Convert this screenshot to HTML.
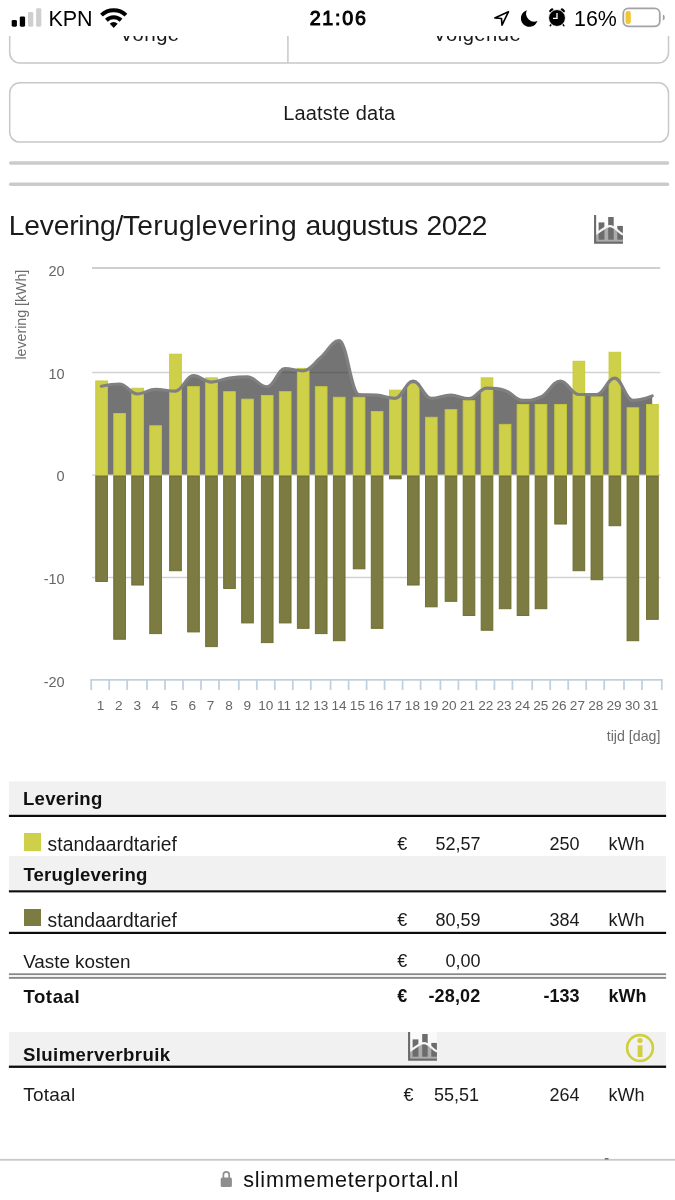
<!DOCTYPE html>
<html lang="nl"><head><meta charset="utf-8"><title>Slimmemeterportal - Levering/Teruglevering augustus 2022</title>
<style>
html,body{margin:0;padding:0;background:#fff;}
body{width:675px;height:1200px;overflow:hidden;position:relative;font-family:"Liberation Sans", sans-serif;color:#1a1a1a;}
#page{position:absolute;left:0;top:0;width:675px;height:1200px;overflow:hidden;background:#fff;}
.sw{position:absolute;left:23.7px;width:17.3px;height:17.5px;}
#status{position:absolute;left:0;top:0;width:675px;height:36.3px;background:#fff;z-index:5;}
#bottombar{position:absolute;left:0;top:1159px;width:675px;height:41px;background:#fff;z-index:5;}

</style></head><body><div id="page">
<svg width="675" height="150" viewBox="0 0 675 150" style="position:absolute;left:0;top:0">
<g fill="#fff" stroke="#c8c8c8" stroke-width="1.5">
<rect x="9.7" y="-12" width="658.8" height="74.9" rx="10.2"/>
<path d="M287.9,0V62.9"/>
<rect x="9.7" y="82.8" width="658.8" height="59.3" rx="10.2"/>
</g></svg>
<div style="position:absolute;top:21.98px;font-size:20.2px;line-height:24.24px;font-weight:400;color:#1a1a1a;white-space:nowrap;letter-spacing:0.4px;left:-150.4px;width:600px;text-align:center;">Vorige</div>
<div style="position:absolute;top:21.98px;font-size:20.2px;line-height:24.24px;font-weight:400;color:#1a1a1a;white-space:nowrap;letter-spacing:0.5px;left:177.2px;width:600px;text-align:center;">Volgende</div>
<div style="position:absolute;top:101.17px;font-size:20px;line-height:24.00px;font-weight:400;color:#1a1a1a;white-space:nowrap;letter-spacing:0.18px;left:39.30000000000001px;width:600px;text-align:center;">Laatste data</div>
<svg width="675" height="40" viewBox="0 155 675 40" style="position:absolute;left:0;top:155px">
<g stroke="#cbcbcb" stroke-width="3.5" stroke-linecap="round"><path d="M10.7,162.9H667.5"/><path d="M10.7,184.3H667.5"/></g></svg>
<div style="position:absolute;top:208.66px;font-size:28.25px;line-height:33.90px;font-weight:400;color:#1a1a1a;white-space:nowrap;left:8.7px;"><span style="letter-spacing:-0.2px">Levering</span><span style="letter-spacing:-0.6px">/</span><span style="letter-spacing:0.36px">Teruglevering</span><span style="letter-spacing:0.6px"> </span><span style="letter-spacing:-0.25px">augustus</span><span style="letter-spacing:0.6px"> </span><span style="letter-spacing:-0.62px">2022</span></div>
<svg width="29.4" height="29" viewBox="0 0 29.4 29" style="position:absolute;left:594px;top:214.6px">
<rect x="0" y="0" width="29.2" height="28.9" fill="#fff"/>
<path d="M1,19.4 C6.5,16.6 11,11.2 16,11.2 C21,11.2 24,17.2 29,19.6 V26.8 H1 Z" fill="#ababab"/>
<rect x="4.6" y="7.4" width="5.8" height="17.3" fill="#6c6c6c"/>
<rect x="14.2" y="2" width="5.5" height="22.7" fill="#6c6c6c"/>
<rect x="23.3" y="10.9" width="5.6" height="13.8" fill="#6c6c6c"/>
<path d="M1,19.4 C6.5,16.6 11,11.2 16,11.2 C21,11.2 24,17.2 29,19.6" fill="none" stroke="#f6f6f6" stroke-width="2.2"/>
<path d="M1.1,0.1V27.6H29" fill="none" stroke="#6a6a6a" stroke-width="2.1"/>
</svg>
<svg class="chart" width="675" height="520" viewBox="0 250 675 520" style="position:absolute;left:0;top:250px">
<g stroke="#d2d2d2" fill="none">
<path d="M92,268H660.3" stroke-width="2.1" stroke="#cfcfcf"/>
<path d="M92,372.4H660.3" stroke-width="1.5"/>
<path d="M92,475.1H660.3" stroke-width="1.5"/>
<path d="M92,577.4H660.3" stroke-width="1.5"/>
</g>
<path d="M101.4,386.2 C101.4,386.2 112.2,384.0 119.4,384.0 C126.6,384.0 130.2,394.0 137.4,394.0 C144.6,394.0 148.2,389.3 155.4,389.3 C163.4,389.3 167.3,391.2 175.3,391.2 C182.5,391.2 186.1,375.7 193.3,375.7 C200.5,375.7 204.1,382.1 211.3,382.1 C218.5,382.1 222.1,379.2 229.3,378.1 C236.5,377.0 240.1,376.8 247.3,376.8 C255.2,376.8 259.1,386.9 267.0,386.9 C274.2,386.9 277.8,368.6 285.0,368.6 C292.2,368.6 295.8,370.8 303.0,370.8 C310.2,370.8 313.8,363.3 321.0,357.3 C328.2,351.3 331.8,340.7 339.0,340.7 C347.0,340.7 350.9,393.8 358.9,394.5 C366.1,395.2 369.7,394.5 376.9,395.2 C384.2,395.9 387.8,398.3 395.1,398.3 C402.3,398.3 405.9,381.0 413.1,381.0 C420.3,381.0 423.9,398.3 431.1,398.3 C439.0,398.3 442.9,395.2 450.8,395.2 C458.0,395.2 461.6,398.7 468.8,398.7 C476.0,398.7 479.6,388.1 486.8,388.1 C494.0,388.1 497.7,388.1 504.9,390.4 C512.1,392.7 515.6,400.4 522.8,400.4 C530.0,400.4 533.6,400.4 540.8,397.0 C548.6,393.6 552.6,381.0 560.4,381.0 C567.7,381.0 571.4,394.5 578.7,394.5 C585.9,394.5 589.5,394.5 596.7,394.5 C603.9,394.5 607.5,378.1 614.7,378.1 C621.9,378.1 625.5,400.4 632.7,400.4 C640.5,400.4 652.2,395.9 652.2,395.9 L652.2,474.6 L101.4,474.6 Z" fill="rgba(48,48,48,0.67)"/>
<g fill="#cfd04a" stroke="#c5c935" stroke-width="0.9">
<rect x="95.75" y="380.95" width="11.7" height="95.05"/>
<rect x="113.75" y="413.45" width="11.7" height="62.55"/>
<rect x="131.75" y="388.25" width="11.7" height="87.75"/>
<rect x="149.75" y="425.75" width="11.7" height="50.25"/>
<rect x="169.65" y="354.15" width="11.7" height="121.85"/>
<rect x="187.65" y="386.65" width="11.7" height="89.35"/>
<rect x="205.65" y="377.85" width="11.7" height="98.15"/>
<rect x="223.65" y="391.65" width="11.7" height="84.35"/>
<rect x="241.65" y="399.15" width="11.7" height="76.85"/>
<rect x="261.35" y="395.45" width="11.7" height="80.55"/>
<rect x="279.35" y="391.65" width="11.7" height="84.35"/>
<rect x="297.35" y="368.35" width="11.7" height="107.65"/>
<rect x="315.35" y="386.65" width="11.7" height="89.35"/>
<rect x="333.35" y="397.25" width="11.7" height="78.75"/>
<rect x="353.25" y="397.25" width="11.7" height="78.75"/>
<rect x="371.25" y="411.55" width="11.7" height="64.45"/>
<rect x="389.45" y="390.15" width="11.7" height="85.85"/>
<rect x="407.45" y="383.75" width="11.7" height="92.25"/>
<rect x="425.45" y="417.25" width="11.7" height="58.75"/>
<rect x="445.15" y="409.65" width="11.7" height="66.35"/>
<rect x="463.15" y="400.65" width="11.7" height="75.35"/>
<rect x="481.15" y="377.85" width="11.7" height="98.15"/>
<rect x="499.25" y="424.35" width="11.7" height="51.65"/>
<rect x="517.15" y="404.45" width="11.7" height="71.55"/>
<rect x="535.15" y="404.45" width="11.7" height="71.55"/>
<rect x="554.75" y="404.45" width="11.7" height="71.55"/>
<rect x="573.05" y="361.25" width="11.7" height="114.75"/>
<rect x="591.05" y="396.85" width="11.7" height="79.15"/>
<rect x="609.05" y="352.25" width="11.7" height="123.75"/>
<rect x="627.05" y="407.75" width="11.7" height="68.25"/>
<rect x="646.55" y="404.45" width="11.7" height="71.55"/>
</g><g fill="#7b7b42" stroke="#6c6c2c" stroke-width="0.9">
<rect x="95.75" y="476.0" width="11.7" height="105.45"/>
<rect x="113.75" y="476.0" width="11.7" height="163.25"/>
<rect x="131.75" y="476.0" width="11.7" height="109.05"/>
<rect x="149.75" y="476.0" width="11.7" height="157.65"/>
<rect x="169.65" y="476.0" width="11.7" height="94.75"/>
<rect x="187.65" y="476.0" width="11.7" height="155.95"/>
<rect x="205.65" y="476.0" width="11.7" height="170.65"/>
<rect x="223.65" y="476.0" width="11.7" height="112.55"/>
<rect x="241.65" y="476.0" width="11.7" height="146.95"/>
<rect x="261.35" y="476.0" width="11.7" height="166.65"/>
<rect x="279.35" y="476.0" width="11.7" height="146.95"/>
<rect x="297.35" y="476.0" width="11.7" height="152.35"/>
<rect x="315.35" y="476.0" width="11.7" height="157.65"/>
<rect x="333.35" y="476.0" width="11.7" height="164.75"/>
<rect x="353.25" y="476.0" width="11.7" height="92.85"/>
<rect x="371.25" y="476.0" width="11.7" height="152.35"/>
<rect x="389.45" y="476.0" width="11.7" height="2.85"/>
<rect x="407.45" y="476.0" width="11.7" height="109.05"/>
<rect x="425.45" y="476.0" width="11.7" height="130.85"/>
<rect x="445.15" y="476.0" width="11.7" height="125.35"/>
<rect x="463.15" y="476.0" width="11.7" height="139.55"/>
<rect x="481.15" y="476.0" width="11.7" height="154.25"/>
<rect x="499.25" y="476.0" width="11.7" height="132.75"/>
<rect x="517.15" y="476.0" width="11.7" height="139.55"/>
<rect x="535.15" y="476.0" width="11.7" height="132.75"/>
<rect x="554.75" y="476.0" width="11.7" height="48.05"/>
<rect x="573.05" y="476.0" width="11.7" height="94.75"/>
<rect x="591.05" y="476.0" width="11.7" height="103.75"/>
<rect x="609.05" y="476.0" width="11.7" height="49.75"/>
<rect x="627.05" y="476.0" width="11.7" height="164.75"/>
<rect x="646.55" y="476.0" width="11.7" height="143.35"/>
</g>
<path d="M101.4,386.2 C101.4,386.2 112.2,384.0 119.4,384.0 C126.6,384.0 130.2,394.0 137.4,394.0 C144.6,394.0 148.2,389.3 155.4,389.3 C163.4,389.3 167.3,391.2 175.3,391.2 C182.5,391.2 186.1,375.7 193.3,375.7 C200.5,375.7 204.1,382.1 211.3,382.1 C218.5,382.1 222.1,379.2 229.3,378.1 C236.5,377.0 240.1,376.8 247.3,376.8 C255.2,376.8 259.1,386.9 267.0,386.9 C274.2,386.9 277.8,368.6 285.0,368.6 C292.2,368.6 295.8,370.8 303.0,370.8 C310.2,370.8 313.8,363.3 321.0,357.3 C328.2,351.3 331.8,340.7 339.0,340.7 C347.0,340.7 350.9,393.8 358.9,394.5 C366.1,395.2 369.7,394.5 376.9,395.2 C384.2,395.9 387.8,398.3 395.1,398.3 C402.3,398.3 405.9,381.0 413.1,381.0 C420.3,381.0 423.9,398.3 431.1,398.3 C439.0,398.3 442.9,395.2 450.8,395.2 C458.0,395.2 461.6,398.7 468.8,398.7 C476.0,398.7 479.6,388.1 486.8,388.1 C494.0,388.1 497.7,388.1 504.9,390.4 C512.1,392.7 515.6,400.4 522.8,400.4 C530.0,400.4 533.6,400.4 540.8,397.0 C548.6,393.6 552.6,381.0 560.4,381.0 C567.7,381.0 571.4,394.5 578.7,394.5 C585.9,394.5 589.5,394.5 596.7,394.5 C603.9,394.5 607.5,378.1 614.7,378.1 C621.9,378.1 625.5,400.4 632.7,400.4 C640.5,400.4 652.2,395.9 652.2,395.9" fill="none" stroke="#808080" stroke-width="3.2" stroke-linecap="round" stroke-linejoin="round"/>
<g stroke="#c0d0e0" stroke-width="1.8" fill="none">
<path d="M90.3,679.8H662.6"/>
<path d="M91.2,679.8V690"/>
<path d="M109.2,679.8V690"/>
<path d="M127.2,679.8V690"/>
<path d="M147.0,679.8V690"/>
<path d="M165.0,679.8V690"/>
<path d="M183.0,679.8V690"/>
<path d="M201.0,679.8V690"/>
<path d="M219.0,679.8V690"/>
<path d="M238.8,679.8V690"/>
<path d="M256.8,679.8V690"/>
<path d="M274.8,679.8V690"/>
<path d="M292.8,679.8V690"/>
<path d="M310.8,679.8V690"/>
<path d="M330.6,679.8V690"/>
<path d="M348.6,679.8V690"/>
<path d="M366.6,679.8V690"/>
<path d="M384.6,679.8V690"/>
<path d="M402.6,679.8V690"/>
<path d="M420.6,679.8V690"/>
<path d="M440.4,679.8V690"/>
<path d="M458.4,679.8V690"/>
<path d="M476.4,679.8V690"/>
<path d="M494.4,679.8V690"/>
<path d="M512.4,679.8V690"/>
<path d="M532.2,679.8V690"/>
<path d="M550.2,679.8V690"/>
<path d="M568.2,679.8V690"/>
<path d="M586.2,679.8V690"/>
<path d="M604.2,679.8V690"/>
<path d="M624.0,679.8V690"/>
<path d="M642.0,679.8V690"/>
<path d="M661.8,679.8V690"/>
</g>
<g font-family='"Liberation Sans", sans-serif' font-size="14.5" fill="#666">
<text x="64.6" y="276.4" text-anchor="end">20</text>
<text x="64.6" y="379" text-anchor="end">10</text>
<text x="64.6" y="481.4" text-anchor="end">0</text>
<text x="64.6" y="584" text-anchor="end">-10</text>
<text x="64.6" y="686.6" text-anchor="end">-20</text>
<text x="100.6" y="709.8" font-size="13.6" text-anchor="middle">1</text>
<text x="118.9" y="709.8" font-size="13.6" text-anchor="middle">2</text>
<text x="137.3" y="709.8" font-size="13.6" text-anchor="middle">3</text>
<text x="155.6" y="709.8" font-size="13.6" text-anchor="middle">4</text>
<text x="174.0" y="709.8" font-size="13.6" text-anchor="middle">5</text>
<text x="192.3" y="709.8" font-size="13.6" text-anchor="middle">6</text>
<text x="210.6" y="709.8" font-size="13.6" text-anchor="middle">7</text>
<text x="229.0" y="709.8" font-size="13.6" text-anchor="middle">8</text>
<text x="247.3" y="709.8" font-size="13.6" text-anchor="middle">9</text>
<text x="265.7" y="709.8" font-size="13.6" text-anchor="middle">10</text>
<text x="284.0" y="709.8" font-size="13.6" text-anchor="middle">11</text>
<text x="302.3" y="709.8" font-size="13.6" text-anchor="middle">12</text>
<text x="320.7" y="709.8" font-size="13.6" text-anchor="middle">13</text>
<text x="339.0" y="709.8" font-size="13.6" text-anchor="middle">14</text>
<text x="357.4" y="709.8" font-size="13.6" text-anchor="middle">15</text>
<text x="375.7" y="709.8" font-size="13.6" text-anchor="middle">16</text>
<text x="394.0" y="709.8" font-size="13.6" text-anchor="middle">17</text>
<text x="412.4" y="709.8" font-size="13.6" text-anchor="middle">18</text>
<text x="430.7" y="709.8" font-size="13.6" text-anchor="middle">19</text>
<text x="449.1" y="709.8" font-size="13.6" text-anchor="middle">20</text>
<text x="467.4" y="709.8" font-size="13.6" text-anchor="middle">21</text>
<text x="485.7" y="709.8" font-size="13.6" text-anchor="middle">22</text>
<text x="504.1" y="709.8" font-size="13.6" text-anchor="middle">23</text>
<text x="522.4" y="709.8" font-size="13.6" text-anchor="middle">24</text>
<text x="540.8" y="709.8" font-size="13.6" text-anchor="middle">25</text>
<text x="559.1" y="709.8" font-size="13.6" text-anchor="middle">26</text>
<text x="577.4" y="709.8" font-size="13.6" text-anchor="middle">27</text>
<text x="595.8" y="709.8" font-size="13.6" text-anchor="middle">28</text>
<text x="614.1" y="709.8" font-size="13.6" text-anchor="middle">29</text>
<text x="632.5" y="709.8" font-size="13.6" text-anchor="middle">30</text>
<text x="650.8" y="709.8" font-size="13.6" text-anchor="middle">31</text>
</g>
<g font-family='"Liberation Sans", sans-serif' font-size="14.2" fill="#6d6d6d">
<text x="660.4" y="740.6" text-anchor="end">tijd [dag]</text>
<text transform="translate(26.2,359.6) rotate(-90)">levering [kWh]</text>
</g>
</svg>
<svg width="675" height="300" viewBox="0 775 675 300" style="position:absolute;left:0;top:775px">
<g fill="#f1f1f1"><rect x="8.9" y="781.3" width="657.2" height="34"/><rect x="8.9" y="855.9" width="657.2" height="35"/><rect x="8.9" y="1031.9" width="657.2" height="34.2"/></g>
<g fill="#0c0c0c"><rect x="8.9" y="814.8" width="657.2" height="2.2"/><rect x="8.9" y="890.3" width="657.2" height="2.1"/><rect x="8.9" y="931.8" width="657.2" height="2.2"/><rect x="8.9" y="1065.6" width="657.2" height="2.3"/></g>
<g fill="#888"><rect x="8.9" y="973.3" width="657.2" height="1.8"/><rect x="8.9" y="976.9" width="657.2" height="1.9"/></g>
</svg>
<div style="position:absolute;top:787.90px;font-size:18.6px;line-height:22.32px;font-weight:700;color:#111;white-space:nowrap;letter-spacing:0.26px;left:23.0px;">Levering</div>
<div class="sw" style="top:833.1px;background:#cfd04a"></div>
<div style="position:absolute;top:832.83px;font-size:19.3px;line-height:23.16px;font-weight:400;color:#1a1a1a;white-space:nowrap;letter-spacing:0.05px;left:47.6px;">standaardtarief</div>
<div style="position:absolute;top:834.06px;font-size:18px;line-height:21.60px;font-weight:400;color:#1a1a1a;white-space:nowrap;left:397.3px;">€</div>
<div style="position:absolute;top:834.06px;font-size:18px;line-height:21.60px;font-weight:400;color:#1a1a1a;white-space:nowrap;right:194.39999999999998px;">52,57</div>
<div style="position:absolute;top:834.06px;font-size:18px;line-height:21.60px;font-weight:400;color:#1a1a1a;white-space:nowrap;right:95.39999999999998px;">250</div>
<div style="position:absolute;top:834.06px;font-size:18px;line-height:21.60px;font-weight:400;color:#1a1a1a;white-space:nowrap;left:608.6px;">kWh</div>
<div style="position:absolute;top:863.70px;font-size:18.6px;line-height:22.32px;font-weight:700;color:#111;white-space:nowrap;letter-spacing:0.2px;left:23.4px;">Teruglevering</div>
<div class="sw" style="top:908.8px;background:#7b7b42"></div>
<div style="position:absolute;top:908.63px;font-size:19.3px;line-height:23.16px;font-weight:400;color:#1a1a1a;white-space:nowrap;letter-spacing:0.05px;left:47.6px;">standaardtarief</div>
<div style="position:absolute;top:909.86px;font-size:18px;line-height:21.60px;font-weight:400;color:#1a1a1a;white-space:nowrap;left:397.3px;">€</div>
<div style="position:absolute;top:909.86px;font-size:18px;line-height:21.60px;font-weight:400;color:#1a1a1a;white-space:nowrap;right:194.39999999999998px;">80,59</div>
<div style="position:absolute;top:909.86px;font-size:18px;line-height:21.60px;font-weight:400;color:#1a1a1a;white-space:nowrap;right:95.39999999999998px;">384</div>
<div style="position:absolute;top:909.86px;font-size:18px;line-height:21.60px;font-weight:400;color:#1a1a1a;white-space:nowrap;left:608.6px;">kWh</div>
<div style="position:absolute;top:950.61px;font-size:18.9px;line-height:22.68px;font-weight:400;color:#1a1a1a;white-space:nowrap;letter-spacing:-0.05px;left:23.2px;">Vaste kosten</div>
<div style="position:absolute;top:951.46px;font-size:18px;line-height:21.60px;font-weight:400;color:#1a1a1a;white-space:nowrap;left:397.3px;">€</div>
<div style="position:absolute;top:951.46px;font-size:18px;line-height:21.60px;font-weight:400;color:#1a1a1a;white-space:nowrap;right:194.39999999999998px;">0,00</div>
<div style="position:absolute;top:985.50px;font-size:18.6px;line-height:22.32px;font-weight:700;color:#111;white-space:nowrap;letter-spacing:0.57px;left:23.4px;">Totaal</div>
<div style="position:absolute;top:986.06px;font-size:18px;line-height:21.60px;font-weight:700;color:#111;white-space:nowrap;left:397.3px;">€</div>
<div style="position:absolute;top:986.06px;font-size:18px;line-height:21.60px;font-weight:700;color:#111;white-space:nowrap;letter-spacing:0.15px;right:194.60000000000002px;">-28,02</div>
<div style="position:absolute;top:986.06px;font-size:18px;line-height:21.60px;font-weight:700;color:#111;white-space:nowrap;right:95.39999999999998px;">-133</div>
<div style="position:absolute;top:986.06px;font-size:18px;line-height:21.60px;font-weight:700;color:#111;white-space:nowrap;left:608.6px;">kWh</div>
<div style="position:absolute;top:1043.50px;font-size:18.6px;line-height:22.32px;font-weight:700;color:#111;white-space:nowrap;letter-spacing:0.39px;left:23.0px;">Sluimerverbruik</div>
<svg width="29.4" height="29" viewBox="0 0 29.4 29" style="position:absolute;left:408.2px;top:1031.8px">
<rect x="0" y="0" width="29.2" height="28.9" fill="#fafafa"/>
<path d="M1,19.4 C6.5,16.6 11,11.2 16,11.2 C21,11.2 24,17.2 29,19.6 V26.8 H1 Z" fill="#ababab"/>
<rect x="4.6" y="7.4" width="5.8" height="17.3" fill="#6c6c6c"/>
<rect x="14.2" y="2" width="5.5" height="22.7" fill="#6c6c6c"/>
<rect x="23.3" y="10.9" width="5.6" height="13.8" fill="#6c6c6c"/>
<path d="M1,19.4 C6.5,16.6 11,11.2 16,11.2 C21,11.2 24,17.2 29,19.6" fill="none" stroke="#f6f6f6" stroke-width="2.2"/>
<path d="M1.1,0.1V27.6H29" fill="none" stroke="#6a6a6a" stroke-width="2.1"/>
</svg>
<svg width="32" height="32" viewBox="0 0 32 32" style="position:absolute;left:624.1px;top:1032.4px">
<circle cx="16" cy="16" r="12.9" fill="none" stroke="#d0cf42" stroke-width="2.7"/>
<circle cx="16" cy="8.5" r="2.6" fill="#d0cf42"/><rect x="13.6" y="13.3" width="4.9" height="11.7" fill="#d0cf42"/></svg>
<div style="position:absolute;top:1084.02px;font-size:19px;line-height:22.80px;font-weight:400;color:#1a1a1a;white-space:nowrap;letter-spacing:0.25px;left:23.2px;">Totaal</div>
<div style="position:absolute;top:1084.96px;font-size:18px;line-height:21.60px;font-weight:400;color:#1a1a1a;white-space:nowrap;left:403.6px;">€</div>
<div style="position:absolute;top:1084.96px;font-size:18px;line-height:21.60px;font-weight:400;color:#1a1a1a;white-space:nowrap;right:196px;">55,51</div>
<div style="position:absolute;top:1084.96px;font-size:18px;line-height:21.60px;font-weight:400;color:#1a1a1a;white-space:nowrap;right:95.39999999999998px;">264</div>
<div style="position:absolute;top:1084.96px;font-size:18px;line-height:21.60px;font-weight:400;color:#1a1a1a;white-space:nowrap;left:608.6px;">kWh</div>
<div id="status">
<svg width="135" height="36" viewBox="0 0 135 36" style="position:absolute;left:0;top:0">
<rect x="11.7" y="19.9" width="5.2" height="6.8" rx="1.4" fill="#000"/>
<rect x="19.8" y="16.4" width="5.3" height="10.3" rx="1.4" fill="#000"/>
<rect x="28" y="12" width="5.3" height="14.7" rx="1.4" fill="#cfcfcf"/>
<rect x="36.1" y="8.2" width="5.2" height="18.5" rx="1.4" fill="#cfcfcf"/>
<g fill="none" stroke="#000" stroke-width="3.9">
<path d="M101.47,15.15 A17.6,17.6 0 0 1 125.93,15.15"/>
<path d="M106.4,20.25 A10.5,10.5 0 0 1 121,20.25"/>
</g>
<path d="M109.74,23.7 A5.7,5.7 0 0 1 117.66,23.7 L114.1,27.6 Q113.7,28 113.3,27.6 Z" fill="#000"/>
</svg>
<div style="position:absolute;top:6.85px;font-size:21.5px;line-height:25.80px;font-weight:400;color:#000;white-space:nowrap;left:48.4px;">KPN</div>
<div style="position:absolute;top:7.35px;font-size:19.7px;line-height:23.64px;font-weight:400;color:#000;white-space:nowrap;letter-spacing:1.75px;left:38.69999999999999px;width:600px;text-align:center;-webkit-text-stroke:0.95px #000;">21:06</div>
<svg width="90" height="36" viewBox="485 0 90 36" style="position:absolute;left:485px;top:0">
<path d="M508.4,11.8 L494.8,18 L501.5,18.5 L502,25.2 Z" fill="none" stroke="#000" stroke-width="1.65" stroke-linejoin="round"/>
<path d="M526.8,10.2 A8.5,8.5 0 1 0 537.4,21.1 A8.27,8.27 0 0 1 526.8,10.2 Z" fill="#000"/>
<ellipse cx="551.3" cy="10.4" rx="2.5" ry="1.5" transform="rotate(-40 551.3 10.4)" fill="#000"/>
<ellipse cx="562.8" cy="10.4" rx="2.5" ry="1.5" transform="rotate(40 562.8 10.4)" fill="#000"/>
<path d="M551.6,24 L550.2,25.7 M562.5,24 L563.9,25.7" stroke="#000" stroke-width="1.5" stroke-linecap="round"/>
<circle cx="557" cy="18" r="8.45" fill="#000" stroke="#fff" stroke-width="0.9"/>
<path d="M557,12.9 V18.4 H553" fill="none" stroke="#fff" stroke-width="1.35"/>
</svg>
<div style="position:absolute;top:7.04px;font-size:21.4px;line-height:25.68px;font-weight:400;color:#000;white-space:nowrap;right:58.200000000000045px;">16%</div>
<svg width="50" height="36" viewBox="620 0 50 36" style="position:absolute;left:620px;top:0">
<rect x="623.3" y="8.3" width="36.5" height="18" rx="5" fill="#fff" stroke="#a3a3a3" stroke-width="1.8"/>
<rect x="625.5" y="11" width="5.3" height="13" rx="2.3" fill="#f4c532"/>
<path d="M662.8,14.2 Q664.8,15 664.8,17.4 Q664.8,19.8 662.8,20.6 Z" fill="#a3a3a3"/>
</svg>
</div>
<div id="bottombar">
<svg width="675" height="4" viewBox="0 0 675 4" style="position:absolute;left:0;top:-1px"><rect x="0" y="0.9" width="675" height="1.8" fill="#c8c8c8"/><rect x="604.7" y="0" width="3.9" height="1.6" rx="0.6" fill="#6a6a6a"/></svg>
<svg width="16" height="20" viewBox="0 0 16 20" style="position:absolute;left:219px;top:10.3px">
<rect x="1.7" y="8.4" width="11.2" height="9.6" rx="1.6" fill="#8e8e8e"/>
<path d="M4.4,9 V5.8 A2.9,2.9 0 0 1 10.2,5.8 V9" fill="none" stroke="#8e8e8e" stroke-width="1.7"/>
</svg>
</div>
<div style="position:absolute;z-index:6;left:0;top:0;width:675px;height:1200px;pointer-events:none"><div style="position:absolute;top:1166.96px;font-size:21.6px;line-height:25.92px;font-weight:400;color:#111;white-space:nowrap;letter-spacing:0.78px;left:243.2px;">slimmemeterportal.nl</div></div>
</div></body></html>
